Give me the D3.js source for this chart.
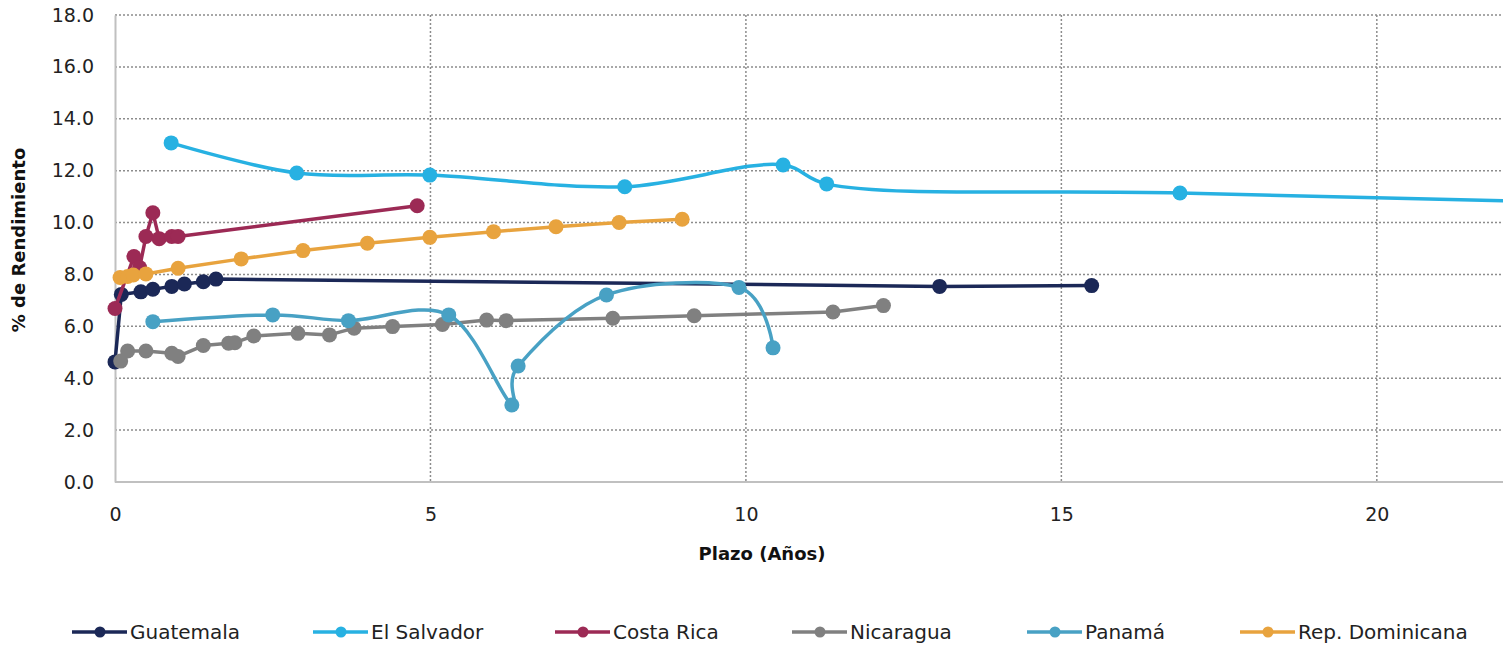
<!DOCTYPE html>
<html>
<head>
<meta charset="utf-8">
<script src="https://cdn.jsdelivr.net/npm/d3@7"></script>
<style>
  html, body { margin: 0; padding: 0; background: #fff; }
  svg { display: block; }
  text { font-family: "DejaVu Sans", "Noto Sans", sans-serif; }
</style>
</head>
<body>
<svg id="chart" width="1511" height="648"></svg>
<script>
// ---- Data (Plazo en años, % de rendimiento) ----
const countries = ["Guatemala", "El Salvador", "Costa Rica", "Nicaragua", "Panamá", "Rep. Dominicana"];
const colors = ["#1b2857", "#27b1e2", "#9c2a55", "#808080", "#48a1c4", "#e8a33e"];
const curveKinds = ["linear", "centripetal", "linear", "linear", "cardinal", "linear"];

const guatemalaX = [0.0, 0.1, 0.41, 0.6, 0.9, 1.1, 1.4, 1.6, 13.07, 15.48];
const guatemalaY = [4.63, 7.23, 7.33, 7.43, 7.54, 7.63, 7.72, 7.82, 7.54, 7.57];

const elSalvadorX = [0.89, 2.88, 4.99, 8.08, 10.59, 11.28, 16.88, 30.0];
const elSalvadorY = [13.07, 11.91, 11.83, 11.38, 12.22, 11.49, 11.14, 10.38];

const costaRicaX = [0.0, 0.3, 0.39, 0.49, 0.6, 0.7, 0.9, 1.0, 4.79];
const costaRicaY = [6.69, 8.69, 8.27, 9.46, 10.38, 9.38, 9.46, 9.46, 10.65];

const nicaraguaX = [0.09, 0.2, 0.49, 0.9, 1.0, 1.4, 1.8, 1.9, 2.2, 2.9, 3.4, 3.79, 4.4, 5.19, 5.89, 6.2, 7.89, 9.18, 11.38, 12.18];
const nicaraguaY = [4.66, 5.05, 5.05, 4.96, 4.84, 5.26, 5.35, 5.37, 5.63, 5.73, 5.67, 5.93, 5.99, 6.07, 6.24, 6.22, 6.31, 6.41, 6.55, 6.8];

const panamaX = [0.6, 2.5, 3.7, 5.29, 6.29, 6.39, 7.79, 9.89, 10.43];
const panamaY = [6.18, 6.44, 6.22, 6.44, 2.97, 4.47, 7.21, 7.5, 5.17];

const repDomX = [0.08, 0.2, 0.29, 0.49, 1.0, 2.0, 2.98, 4.0, 4.99, 6.0, 6.99, 7.99, 8.99];
const repDomY = [7.88, 7.92, 7.98, 8.02, 8.24, 8.6, 8.92, 9.2, 9.43, 9.65, 9.84, 10.0, 10.13];

const xTicks = [0, 5, 10, 15, 20];
const yTicks = [0, 2, 4, 6, 8, 10, 12, 14, 16, 18];
const xTitle = "Plazo (Años)";
const yTitle = "% de Rendimiento";

const seriesX = [guatemalaX, elSalvadorX, costaRicaX, nicaraguaX, panamaX, repDomX];
const seriesY = [guatemalaY, elSalvadorY, costaRicaY, nicaraguaY, panamaY, repDomY];

// ---- Layout ----
const svg = d3.select("#chart");
const L = 115, R = 1503, T = 15, B = 482;

const x = d3.scaleLinear().domain([0, 22]).range([L, R]);
const y = d3.scaleLinear().domain([0, 18]).range([B, T]);

svg.append("defs").append("clipPath").attr("id", "plotclip")
  .append("rect").attr("x", L - 10).attr("y", T - 10).attr("width", R - L + 10).attr("height", B - T + 20);

// grid lines
const grid = svg.append("g");
grid.selectAll("line.h").data(yTicks.filter(d => d > 0)).enter().append("line")
  .attr("x1", L).attr("x2", R)
  .attr("y1", d => y(d)).attr("y2", d => y(d))
  .attr("stroke", "#8c8c8c").attr("stroke-width", 1.5).attr("stroke-dasharray", "2,2");
grid.selectAll("line.v").data(xTicks.filter(d => d > 0)).enter().append("line")
  .attr("x1", d => x(d)).attr("x2", d => x(d))
  .attr("y1", T).attr("y2", B)
  .attr("stroke", "#8c8c8c").attr("stroke-width", 1.5).attr("stroke-dasharray", "2,2");

// axes
const xAxis = svg.append("g").attr("transform", `translate(0,${B})`)
  .call(d3.axisBottom(x).tickValues(xTicks).tickSize(0).tickPadding(26).tickFormat(d3.format("d")));
const yAxis = svg.append("g").attr("transform", `translate(${L},0)`)
  .call(d3.axisLeft(y).tickValues(yTicks).tickSize(0).tickPadding(21).tickFormat(d3.format(".1f")));
[xAxis, yAxis].forEach(a => {
  a.select(".domain").attr("stroke", "#c0c0c0").attr("stroke-width", 2);
  a.selectAll("text").attr("font-size", 19).attr("fill", "#222")
    .style("font-family", "'DejaVu Sans', sans-serif");
});
xAxis.select(".domain").attr("d", `M${L},0H${R}`);

// series
const curveFor = k => k === "cardinal" ? d3.curveCardinal.tension(0)
  : k === "centripetal" ? d3.curveCatmullRom.alpha(0.5) : d3.curveLinear;
const plot = svg.append("g").attr("clip-path", "url(#plotclip)");
countries.forEach((name, i) => {
  const pts = seriesX[i].map((xv, j) => [xv, seriesY[i][j]]);
  const line = d3.line().x(d => x(d[0])).y(d => y(d[1])).curve(curveFor(curveKinds[i]));
  const g = plot.append("g");
  g.append("path").datum(pts).attr("d", line)
    .attr("fill", "none").attr("stroke", colors[i]).attr("stroke-width", 3.5)
    .attr("stroke-linejoin", "round");
  g.selectAll("circle").data(pts).enter().append("circle")
    .attr("cx", d => x(d[0])).attr("cy", d => y(d[1])).attr("r", 7.5)
    .attr("fill", colors[i]);
});

// axis titles
svg.append("text").attr("x", 762).attr("y", 560)
  .attr("text-anchor", "middle").attr("font-size", 18).attr("font-weight", "bold")
  .attr("fill", "#111").text(xTitle);
svg.append("text").attr("transform", `translate(25,240) rotate(-90)`)
  .attr("text-anchor", "middle").attr("font-size", 18).attr("font-weight", "bold")
  .attr("fill", "#111").text(yTitle);

// legend
const legendX = [72, 313, 555, 792, 1027, 1240];
const legY = 632;
countries.forEach((name, i) => {
  const g = svg.append("g").attr("transform", `translate(${legendX[i]},${legY})`);
  g.append("line").attr("x1", 0).attr("x2", 55).attr("y1", 0).attr("y2", 0)
    .attr("stroke", colors[i]).attr("stroke-width", 3.5);
  g.append("circle").attr("cx", 28).attr("cy", 0).attr("r", 5.5).attr("fill", colors[i]);
  g.append("text").attr("x", 58).attr("y", 7).attr("font-size", 20).attr("fill", "#222").text(name);
});
</script>
</body>
</html>
